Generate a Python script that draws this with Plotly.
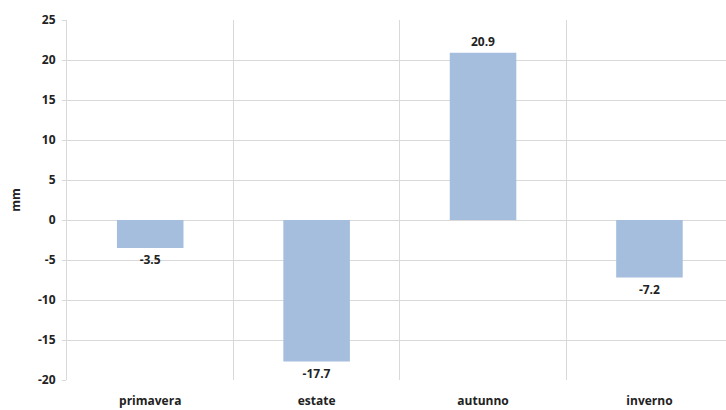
import plotly.graph_objects as go

categories = ["primavera", "estate", "autunno", "inverno"]
values = [-3.5, -17.7, 20.9, -7.2]
labels = ["-3.5", "-17.7", "20.9", "-7.2"]
y_ticks = [-20, -15, -10, -5, 0, 5, 10, 15, 20, 25]
y_tick_text = ["-20", "-15", "-10", "-5", "0", "5", "10", "15", "20", "25"]

fig = go.Figure()
fig.add_trace(go.Bar(
    x=categories, y=values, text=labels, textposition="outside",
    textfont=dict(family="Open Sans", size=12, color="#222222", weight="bold"),
    marker=dict(color="#a5bedd", line=dict(width=0)),
    width=0.4, cliponaxis=False,
))
fig.update_layout(
    width=726, height=410,
    margin=dict(l=67, r=0, t=20, b=30),
    paper_bgcolor="white", plot_bgcolor="white",
    showlegend=False,
    font=dict(family="Open Sans", size=12, color="#222222", weight="bold"),
    xaxis=dict(
        type="category", tickson="boundaries", showgrid=True,
        gridcolor="#d9d9d9", gridwidth=1, ticks="", showline=False,
        range=[-0.5, 3.46],
        tickfont=dict(size=12, color="#222222", weight="bold"),
        ticklabelstandoff=12,
    ),
    yaxis=dict(
        range=[-20, 25], tickvals=y_ticks, ticktext=y_tick_text, showgrid=True,
        gridcolor="#d9d9d9", gridwidth=1, zeroline=False,
        showline=True, linecolor="#d9d9d9", linewidth=1,
        ticks="outside", ticklen=4, tickcolor="#d9d9d9",
        tickfont=dict(size=12, color="#222222", weight="bold"),
        title=dict(text="mm", font=dict(size=12, color="#222222", weight="bold"), standoff=14),
        ticklabelstandoff=4,
    ),
)
fig.write_html("out.html")
